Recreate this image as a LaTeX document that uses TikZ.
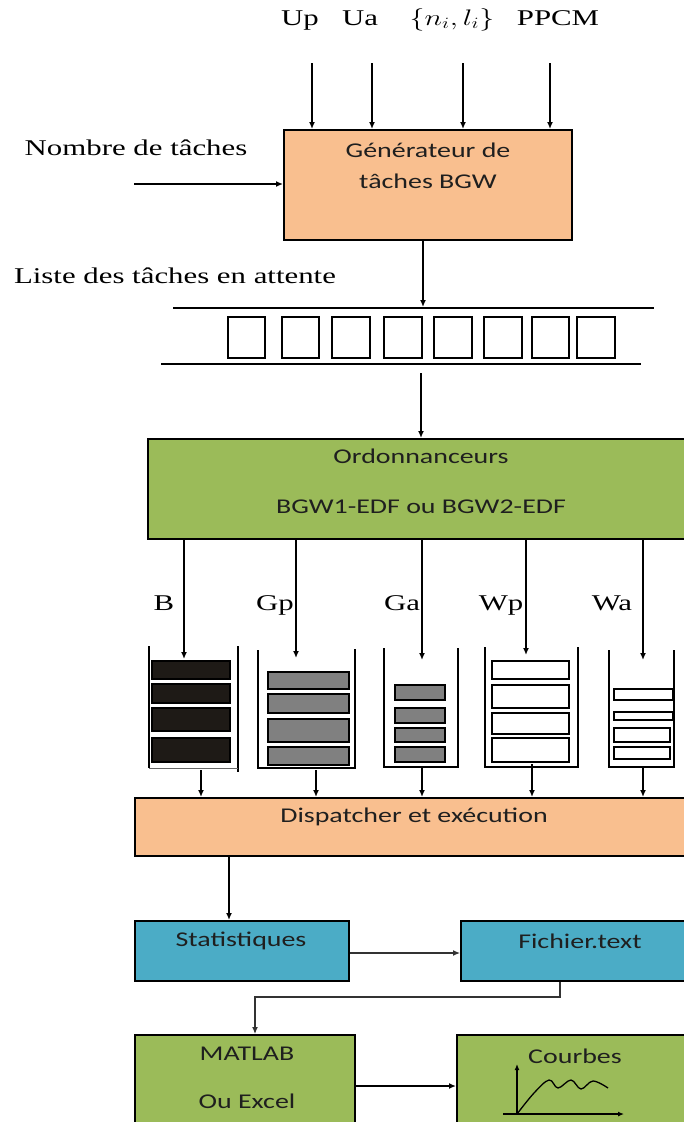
\RequirePackage{fix-cm}
\documentclass[tikz,border=0pt]{standalone}
\usepackage{graphicx}
\usepackage{fontspec}
\setmainfont[FakeStretch=1.37]{Liberation Serif}
\newfontfamily\boxfont[FakeStretch=1.33]{Carlito}
\usetikzlibrary{arrows.meta}

\definecolor{orangebox}{HTML}{F9BF8F}
\definecolor{greenbox}{HTML}{9BBB59}
\definecolor{bluebox}{HTML}{4BACC6}
\definecolor{darkbar}{HTML}{1E1A16}
\definecolor{graybar}{HTML}{808080}

\begin{document}
\begin{tikzpicture}[x=1pt,y=-1pt,
  blk/.style={draw=black, line width=2pt, inner sep=0pt},
  arr/.style={line width=1.5pt, -{Latex[length=7pt,width=6pt]}},
  thinarr/.style={line width=1.2pt, draw=black!80, -{Latex[length=7pt,width=6pt]}},
  serif/.style={font=\fontsize{22.5}{27}\selectfont, inner sep=0pt, text height=15pt, text depth=5pt},
  sans/.style={font=\boxfont\fontsize{21}{25}\selectfont, text=black!88, inner sep=0pt, text height=14pt, text depth=4pt},
  stackline/.style={line width=1.8pt},
  bar/.style={draw=black, line width=1.8pt},
  qbox/.style={draw=black, line width=2pt}
]
\useasboundingbox (0,0) rectangle (684,1122);
\fill[white] (0,0) rectangle (684,1122);
\clip (0,0) rectangle (684,1122);

% ---------- boxes ----------
\node[blk, fill=orangebox, minimum width=288pt, minimum height=110pt] (gen) at (428,185) {};
\node[blk, fill=greenbox, minimum width=540pt, minimum height=100pt] (ord) at (418,489) {};
\node[blk, fill=orangebox, minimum width=553pt, minimum height=58pt] (disp) at (411.5,827) {};
\node[blk, fill=bluebox, minimum width=214pt, minimum height=60pt] (stat) at (242,951) {};
\node[blk, fill=bluebox, minimum width=227pt, minimum height=60pt] (fich) at (574.5,951) {};
\node[blk, fill=greenbox, minimum width=220pt, minimum height=91pt] (mat) at (245,1080.5) {};
\node[blk, fill=greenbox, minimum width=231pt, minimum height=91pt] (cour) at (572.5,1080.5) {};

% ---------- texts ----------
\node[serif] (tUp) at (300,20) {Up};
\node[serif] (tUa) at (360,20) {Ua};
\node[serif] (tNL) at (452,20) {\scalebox{1.33}[1]{$\{n_i,l_i\}$}};
\node[serif] (tPP) at (558,20) {PPCM};
\node[serif] (tNb) at (136,150) {Nombre de tâches};
\node[serif] (tListe) at (175,278) {Liste des tâches en attente};
\node[sans] (tGen1) at (428,152) {Générateur de};
\node[sans] (tGen2) at (428,183) {tâches BGW};
\node[sans] (tOrd1) at (421,458) {Ordonnanceurs};
\node[sans] (tOrd2) at (421,508) {BGW1-EDF ou BGW2-EDF};
\node[serif] (tB) at (164,605) {B};
\node[serif] (tGp) at (275,605) {Gp};
\node[serif] (tGa) at (402,605) {Ga};
\node[serif] (tWp) at (501,605) {Wp};
\node[serif] (tWa) at (612,605) {Wa};
\node[sans] (tDisp) at (414,817) {Dispatcher et exécution};
\node[sans] (tStat) at (241,941) {Statistiques};
\node[sans] (tFich) at (580,943) {Fichier.text};
\node[sans] (tMat1) at (247,1055) {MATLAB};
\node[sans] (tMat2) at (247,1103) {Ou Excel};
\node[sans] (tCour) at (575,1058) {Courbes};

% ---------- input arrows ----------
\coordinate (iUp) at (312,63);
\coordinate (iUa) at (372,63);
\coordinate (iNL) at (463,63);
\coordinate (iPP) at (550,63);
\coordinate (iNb) at (134,184);
\foreach \c in {iUp,iUa,iNL,iPP}{\draw[arr] (\c) -- (\c |- gen.north);}
\draw[arr] (iNb) -- (iNb -| gen.west);

% ---------- queue ----------
\draw[line width=1.5pt] (173,308) -- (654,308);
\draw[line width=1.5pt] (161,364) -- (641,364);
\foreach \a/\b in {228/265,282/319,332/370,384/422,434/472,484/522,532/569,577/615}{
  \draw[qbox] (\a,317) rectangle (\b,358);
}
\coordinate (qtop) at (423,307);
\coordinate (qbot) at (421,373);
\draw[arr] (gen.south -| qtop) -- (qtop);
\draw[arr] (qbot) -- (qbot |- ord.north);

% ---------- stacks ----------
% B
\draw[stackline] (149,646) -- (149,768);
\draw[stackline] (238,646) -- (238,772);
\draw[line width=1pt, black!60] (149,768) -- (238,768);
\foreach \t/\u in {661/679,684/703,708/731,738/762}{\draw[bar, fill=darkbar] (152,\t) rectangle (230,\u);}
% Gp
\draw[stackline] (258,650) -- (258,768) -- (355,768) -- (355,649);
\foreach \t/\u in {672/689,694/713,719/742,747/765}{\draw[bar, fill=graybar] (268,\t) rectangle (349,\u);}
% Ga
\draw[stackline] (384,648) -- (384,767) -- (458,767) -- (458,648);
\foreach \t/\u in {685/700,708/723,728/742,747/762}{\draw[bar, fill=graybar] (395,\t) rectangle (445,\u);}
% Wp
\draw[stackline] (485,647) -- (485,767) -- (578,767) -- (578,647);
\foreach \t/\u in {661/679,685/708,713/734,738/762}{\draw[bar, fill=white] (492,\t) rectangle (569,\u);}
% Wa
\draw[stackline] (609,650) -- (609,767) -- (674,767) -- (674,650);
\foreach \t/\u in {689/700,712/720}{\draw[bar, fill=white] (614,\t) rectangle (673,\u);}
\foreach \t/\u in {728/742,747/759}{\draw[bar, fill=white] (614,\t) rectangle (670,\u);}

% arrows into stacks
\coordinate (sB) at (184,659);
\coordinate (sGp) at (296,658);
\coordinate (sGa) at (422,660);
\coordinate (sWp) at (526,655);
\coordinate (sWa) at (643,660);
\foreach \c in {sB,sGp,sGa,sWp,sWa}{\draw[arr] (ord.south -| \c) -- (\c);}
% arrows out of stacks
\coordinate (oB) at (201,770);
\coordinate (oGp) at (316,770);
\coordinate (oGa) at (422,768);
\coordinate (oWp) at (532,764);
\coordinate (oWa) at (643,768);
\foreach \c in {oB,oGp,oGa,oWp,oWa}{\draw[arr] (\c) -- (\c |- disp.north);}

% ---------- lower connectors ----------
\coordinate (dx) at (229,880);
\draw[arr] (disp.south -| dx) -- (dx |- stat.north);
\coordinate (sy) at (400,953);
\draw[thinarr] (stat.east |- sy) -- (fich.west |- sy);
\coordinate (fm1) at (560,997);
\coordinate (fm2) at (255,997);
\draw[thinarr] (fich.south -| fm1) -- (fm1) -- (fm2) -- (fm2 |- mat.north);
\coordinate (my) at (400,1086);
\draw[arr] (mat.east |- my) -- (cour.west |- my);

% ---------- small curve chart ----------
\draw[line width=1.4pt, -{Latex[length=6pt,width=5pt]}] (517,1114) -- (517,1064);
\draw[line width=1.4pt, -{Latex[length=6pt,width=5pt]}] (503,1114) -- (624,1114);
\draw[line width=1.3pt] plot[smooth, tension=0.6] coordinates {(517,1114) (534,1093) (549,1080) (558,1088) (571,1080) (581,1089) (593,1081) (608,1088)};
\end{tikzpicture}
\end{document}
